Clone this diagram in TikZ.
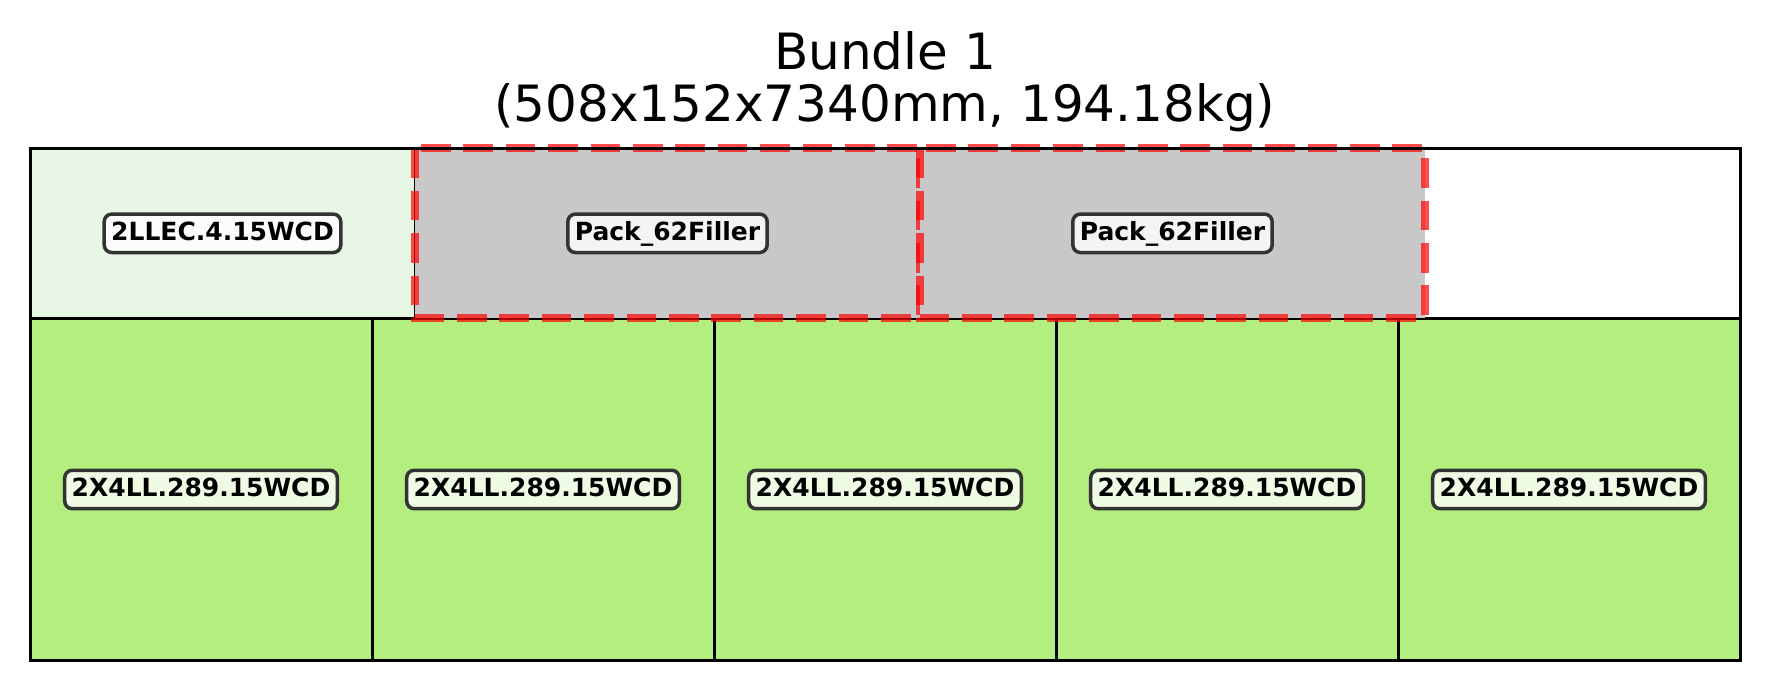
\documentclass[tikz,border=0pt]{standalone}
\usepackage{fontspec}
\setmainfont{DejaVu Sans}
\definecolor{lumber}{HTML}{B3EE7E}
\definecolor{palelumber}{HTML}{E8F7E5}
\definecolor{fillergray}{HTML}{C8C8C8}
\tikzset{
  cell/.style={draw=black, line width=3pt},
  filler/.style={fill=fillergray, draw=red, draw opacity=0.7, line width=8pt,
    dash pattern=on 29.6pt off 12.8pt},
  tag/.style={draw=black!80, line width=3.5pt, rounded corners=7.5pt,
    fill=white, fill opacity=0.8, text opacity=1,
    font=\bfseries\fontsize{25}{30}\selectfont,
    inner xsep=7pt, inner ysep=0pt, text height=25.9pt, text depth=12.5pt},
  heading/.style={font=\fontsize{50}{52}\selectfont, anchor=base, inner sep=0pt}
}
\begin{document}
\begin{tikzpicture}[x=1pt, y=-1pt]
\useasboundingbox (0,0) rectangle (1770,691);
% bottom row: five 2x4 pieces
\foreach \i in {0,...,4} {
  \draw[cell, fill=lumber] ({30+342*\i},318.3) rectangle ({372+342*\i},660.7);
}
% top row: end cap piece
\draw[cell, fill=palelumber] (30,148.3) rectangle (415,318.3);
% top row: filler packs
\draw[filler] (415,148.3) rectangle (920,318.3);
\draw[filler] (920,148.3) rectangle (1425,318.3);
% bundle outline
\draw[cell] (30,148.3) rectangle (1740,660.7);
% labels
\node[tag] (cap) at (222.5,233.3) {2LLEC.4.15WCD};
\node[tag] (fillA) at (667.5,233.3) {Pack\_62Filler};
\node[tag] (fillB) at (1172.5,233.3) {Pack\_62Filler};
\node[tag] (p1) at (201,489.5) {2X4LL.289.15WCD};
\node[tag] (p2) at (543,489.5) {2X4LL.289.15WCD};
\node[tag] (p3) at (885,489.5) {2X4LL.289.15WCD};
\node[tag] (p4) at (1227,489.5) {2X4LL.289.15WCD};
\node[tag] (p5) at (1569,489.5) {2X4LL.289.15WCD};
% title
\node[heading] (title1) at (885,69.3) {Bundle 1};
\node[heading] (title2) at (885,121.7) {(508x152x7340mm, 194.18kg)};
\end{tikzpicture}
\end{document}
